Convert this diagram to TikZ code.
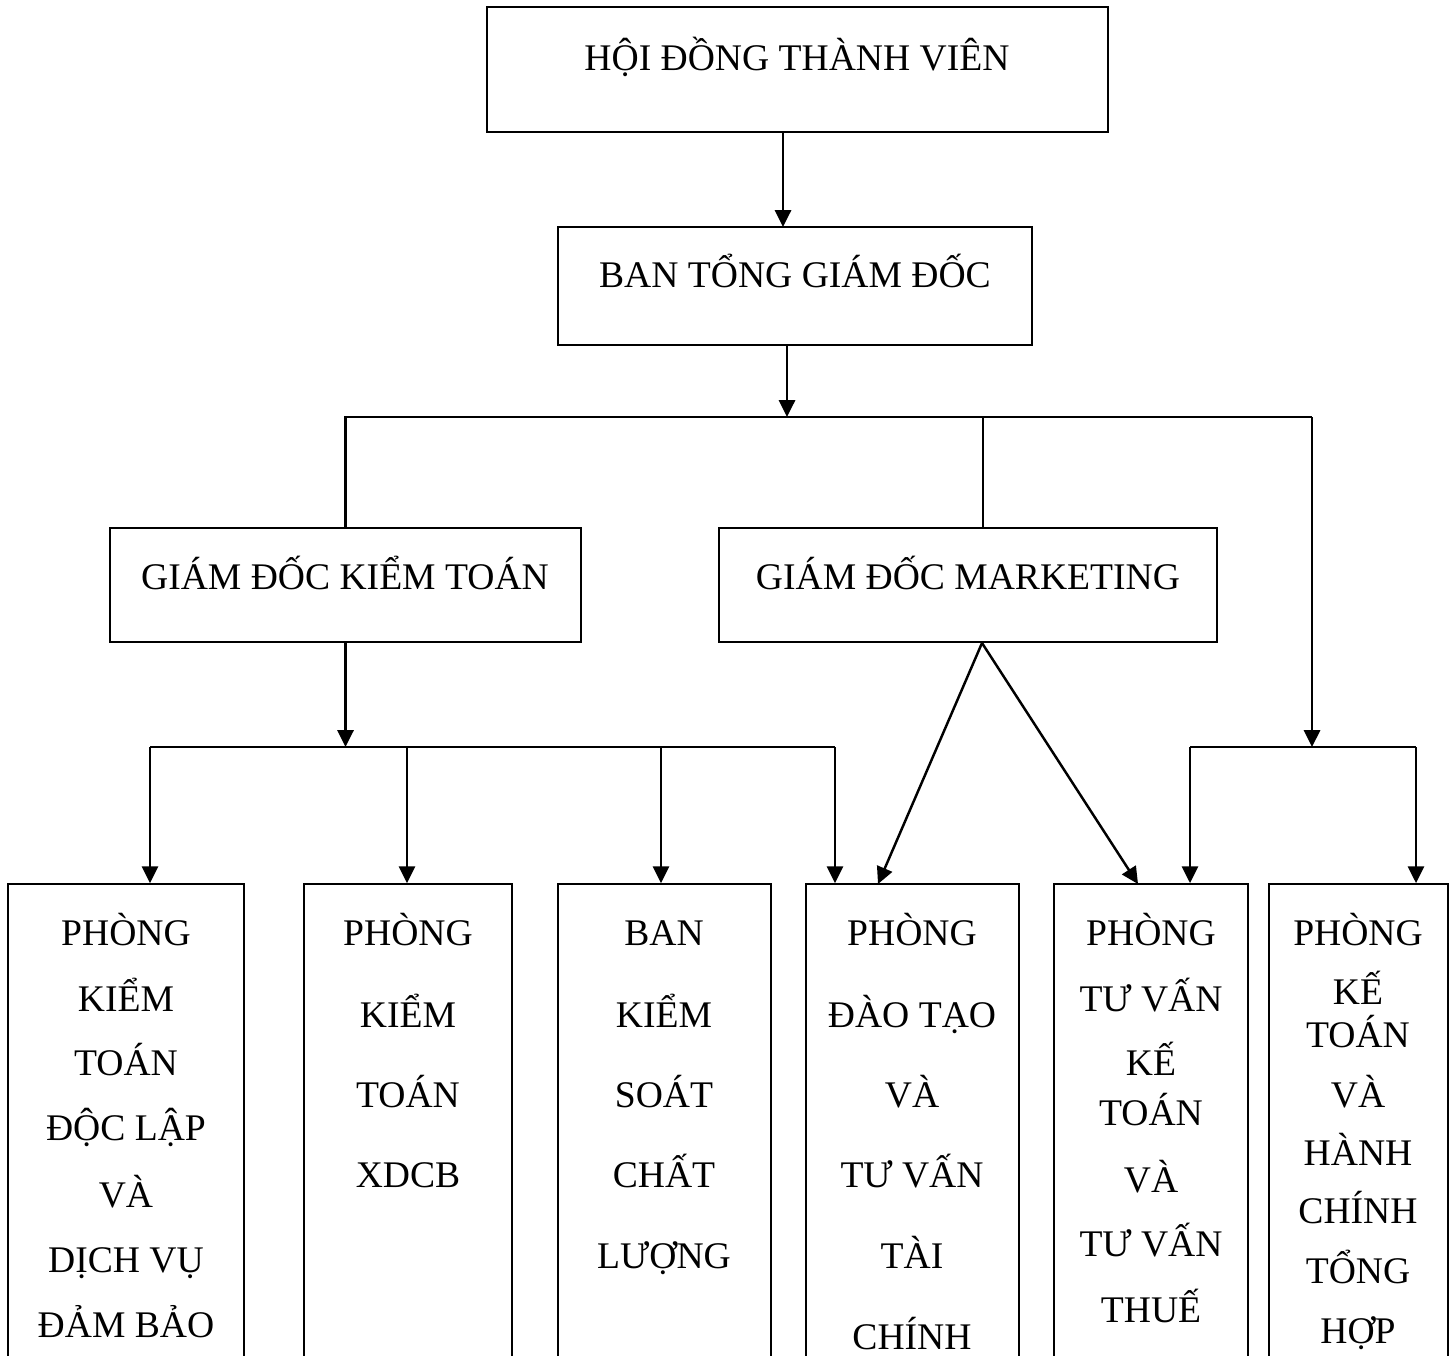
\documentclass[tikz,border=0pt]{standalone}
\usepackage{fontspec}
\setmainfont{Liberation Serif}
\usetikzlibrary{arrows.meta,fit}

\tikzset{
  box/.style={draw, line width=0.5pt, rectangle, inner sep=0pt},
  lbl/.style={anchor=base, inner sep=0pt, font=\fontsize{10.7}{13}\selectfont},
  conn/.style={line width=0.7pt},
  arr/.style={conn, -{Triangle[length=4.8pt,width=4.6pt]}},
}

\begin{document}
\begin{tikzpicture}[x=0.1mm, y=-0.1mm]
\clip (0,0) rectangle (1454,1355);

% upper boxes
\node[box, fit={(487,7) (1108,132)}] (hdtv) {};
\node[box, fit={(558,227) (1032,345)}] (bgd) {};
\node[box, fit={(110,528) (581,642)}] (gdkt) {};
\node[box, fit={(719,528) (1217,642)}] (gdmkt) {};

\node[lbl] (hdtv-t) at (797,70) {HỘI ĐỒNG THÀNH VIÊN};
\node[lbl] (bgd-t) at (795,287) {BAN TỔNG GIÁM ĐỐC};
\node[lbl] (gdkt-t) at (345,589) {GIÁM ĐỐC KIỂM TOÁN};
\node[lbl] (gdmkt-t) at (968,589) {GIÁM ĐỐC MARKETING};

% lower boxes (cut by the page edge)
\node[box, fit={(8,884) (244,1420)}] (b1) {};
\node[box, fit={(304,884) (512,1420)}] (b2) {};
\node[box, fit={(558,884) (771,1420)}] (b3) {};
\node[box, fit={(806,884) (1019,1420)}] (b4) {};
\node[box, fit={(1054,884) (1248,1420)}] (b5) {};
\node[box, fit={(1269,884) (1448,1420)}] (b6) {};

\foreach \y/\t [count=\i] in {945/PHÒNG, 1011/KIỂM, 1075/TOÁN, 1140/ĐỘC LẬP, 1207/VÀ, 1272/DỊCH VỤ, 1337/ĐẢM BẢO}
  \node[lbl] (b1t\i) at (126,\y) {\t};
\foreach \y/\t [count=\i] in {945/PHÒNG, 1027/KIỂM, 1107/TOÁN, 1187/XDCB}
  \node[lbl] (b2t\i) at (408,\y) {\t};
\foreach \y/\t [count=\i] in {945/BAN, 1027/KIỂM, 1107/SOÁT, 1187/CHẤT, 1268/LƯỢNG}
  \node[lbl] (b3t\i) at (664,\y) {\t};
\foreach \y/\t [count=\i] in {945/PHÒNG, 1027/ĐÀO TẠO, 1107/VÀ, 1187/TƯ VẤN, 1268/TÀI, 1349/CHÍNH}
  \node[lbl] (b4t\i) at (912,\y) {\t};
\foreach \y/\t [count=\i] in {945/PHÒNG, 1011/TƯ VẤN, 1075/KẾ, 1125/TOÁN, 1192/VÀ, 1256/TƯ VẤN, 1322/THUẾ}
  \node[lbl] (b5t\i) at (1151,\y) {\t};
\foreach \y/\t [count=\i] in {945/PHÒNG, 1004/KẾ, 1047/TOÁN, 1107/VÀ, 1165/HÀNH, 1223/CHÍNH, 1283/TỔNG, 1343/HỢP}
  \node[lbl] (b6t\i) at (1358,\y) {\t};

% bus points
\coordinate (a1) at (783,227);
\coordinate (bus) at (787,417);
\coordinate (mt) at (983,417);
\coordinate (rt) at (1312,417);
\coordinate (k1) at (150,747);
\coordinate (k2) at (407,747);
\coordinate (k3) at (661,747);
\coordinate (k4) at (835,747);
\coordinate (r1) at (1190,747);
\coordinate (r2) at (1416,747);
\coordinate (m0) at (982,643);
\coordinate (m4) at (878,884);
\coordinate (m5) at (1138,884);

% connectors
\draw[arr] (hdtv.south -| a1) -- (a1);
\draw[arr] (bgd.south -| bus) -- (bus);
\draw[conn] (gdkt.north) |- (rt);
\draw[conn] (mt) -- (mt |- gdmkt.north);
\draw[arr] (rt) -- (rt |- r1);

\draw[arr] (gdkt.south) -- (gdkt.south |- k1);
\draw[conn] (k1) -- (k4);
\foreach \k/\b in {k1/b1, k2/b2, k3/b3, k4/b4}
  \draw[arr] (\k) -- (\k |- \b.north);

\draw[conn] (r1) -- (r2);
\draw[arr] (r1) -- (r1 |- b5.north);
\draw[arr] (r2) -- (r2 |- b6.north);

\draw[arr] (m0) -- (m4);
\draw[arr] (m0) -- (m5);
\end{tikzpicture}
\end{document}
